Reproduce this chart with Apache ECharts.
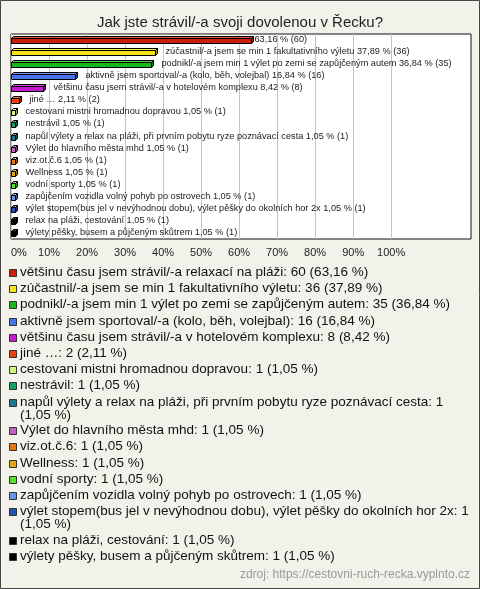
<!DOCTYPE html>
<html><head><meta charset="utf-8">
<script src="https://cdn.jsdelivr.net/npm/echarts@6/dist/echarts.min.js"></script>
<style>html,body{margin:0;padding:0;background:#f3f2ea}#c{width:480px;height:589px}</style>
</head><body><div id="c"></div>
<script>
const titleText = "Jak jste strávil/-a svoji dovolenou v Řecku?";
const sourceText = "zdroj: https://cestovni-ruch-recka.vyplnto.cz";
const categories = [
  "většinu času jsem strávil/-a relaxací na pláži",
  "zúčastnil/-a jsem se min 1 fakultativního výletu",
  "podnikl/-a jsem min 1 výlet po zemi se zapůjčeným autem",
  "aktivně jsem sportoval/-a (kolo, běh, volejbal)",
  "většinu času jsem strávil/-a v hotelovém komplexu",
  "jiné …",
  "cestovani mistni hromadnou dopravou",
  "nestrávil",
  "napůl výlety a relax na pláži, při prvním pobytu ryze poznávací cesta",
  "Výlet do hlavního města mhd",
  "viz.ot.č.6",
  "Wellness",
  "vodní sporty",
  "zapůjčením vozidla volný pohyb po ostrovech",
  "výlet stopem(bus jel v nevýhodnou dobu), výlet pěšky do okolních hor 2x",
  "relax na pláži, cestování",
  "výlety pěšky, busem a půjčeným skůtrem"
];
const counts = [60, 36, 35, 16, 8, 2, 1, 1, 1, 1, 1, 1, 1, 1, 1, 1, 1];
const percents = [63.16, 37.89, 36.84, 16.84, 8.42, 2.11, 1.05, 1.05, 1.05, 1.05, 1.05, 1.05, 1.05, 1.05, 1.05, 1.05, 1.05];
const barLabelShowsName = [false, true, true, true, true, true, true, true, true, true, true, true, true, true, true, true, true];
const legendWraps = [false, false, false, false, false, false, false, false, true, false, false, false, false, false, true, false, false];
const colors = ["#c81e0a", "#f6e41c", "#18b818", "#4a72ec", "#c41ccc", "#e6420e", "#d0f47e", "#14a062", "#1c7890",
  "#c062c0", "#e07a10", "#e0a812", "#52e032", "#6a92e2", "#2a52b6", "#000000", "#000000"];
const xTicks = [0, 10, 20, 30, 40, 50, 60, 70, 80, 90, 100];

const fmtPct = p => p.toFixed(2).replace('.', ',');
const FONT = "'Liberation Sans', Arial, sans-serif";

function shade(hex, f) {
  const n = parseInt(hex.slice(1), 16);
  let r = (n >> 16) & 255, g = (n >> 8) & 255, b = n & 255;
  if (f > 0) { r += (255 - r) * f; g += (255 - g) * f; b += (255 - b) * f; }
  else { r *= 1 + f; g *= 1 + f; b *= 1 + f; }
  return 'rgb(' + [r, g, b].map(v => Math.round(v)).join(',') + ')';
}

const series = categories.map((name, i) => ({
  type: 'custom',
  name: name,
  color: colors[i],
  itemStyle: { color: colors[i] },
  data: [[percents[i], i]],
  encode: { x: 0, y: 1 },
  renderItem: function (params, api) {
    const end = api.coord([api.value(0), api.value(1)]);
    const start = api.coord([0, api.value(1)]);
    const x0 = Math.round(start[0]) + 0.5, x1 = Math.round(end[0]) + 0.5, yc = Math.round(end[1]) + 0.5;
    const d = 2, top = yc - 2, bot = yc + 3;
    const c = colors[i];
    const stroke = { stroke: '#000', lineWidth: 1 };
    const lbl = (barLabelShowsName[i] ? categories[i] + ' ' : '') + fmtPct(percents[i]) + ' % (' + counts[i] + ')';
    const off = barLabelShowsName[i] ? 10 : 3;
    return {
      type: 'group',
      children: [
        { type: 'polygon', shape: { points: [[x0, top], [x0 + d, top - d], [x1 + d, top - d], [x1, top]] }, style: Object.assign({ fill: shade(c, 0.25) }, stroke) },
        { type: 'polygon', shape: { points: [[x1, top], [x1 + d, top - d], [x1 + d, bot - d], [x1, bot]] }, style: Object.assign({ fill: shade(c, -0.35) }, stroke) },
        { type: 'rect', shape: { x: x0, y: top, width: x1 - x0, height: bot - top }, style: Object.assign({ fill: c }, stroke) },
        { type: 'text', x: x1 + off, y: yc - 1, style: { text: lbl, fill: '#222', fontSize: 9.2, fontFamily: FONT, verticalAlign: 'middle', align: 'left' } }
      ]
    };
  }
}));

// legend drawn as graphic (icon aligned with first text line)
const legendGraphics = [];
let ly = 273;
categories.forEach((name, i) => {
  const base = name + ': ' + counts[i];
  const pct = '(' + fmtPct(percents[i]) + ' %)';
  const txt = legendWraps[i] ? base + '\n' + pct : base + ' ' + pct;
  legendGraphics.push({ type: 'rect', shape: { x: 9.5, y: Math.round(ly) - 3.5, width: 7, height: 7 }, style: { fill: colors[i], stroke: '#333', lineWidth: 1 } });
  legendGraphics.push({ type: 'text', x: 20, y: Math.round(ly) - 7, style: { text: txt, fill: '#111', fontSize: 13.5, fontFamily: FONT, lineHeight: 13, verticalAlign: 'top', align: 'left' } });
  ly += legendWraps[i] ? 28.7 : 16.2;
});

const chart = echarts.init(document.getElementById('c'), null, { renderer: 'canvas' });
chart.setOption({
  backgroundColor: '#f3f2ea',
  animation: false,
  textStyle: { fontFamily: FONT },
  title: [
    { text: titleText, left: 'center', top: 10, textStyle: { fontSize: 15, fontWeight: 'normal', color: '#222', fontFamily: FONT } },
    { text: sourceText, right: 5, bottom: 3, textStyle: { fontSize: 12, fontWeight: 'normal', color: '#999', fontFamily: FONT } }
  ],
  graphic: [{ type: 'rect', shape: { x: 0.5, y: 0.5, width: 479, height: 588 }, style: { fill: 'none', stroke: '#444', lineWidth: 1 }, z: 100 }].concat(legendGraphics),
  grid: { left: 11, top: 34, width: 460, height: 205, show: true, backgroundColor: '#fff', borderColor: '#111', borderWidth: 1 },
  xAxis: {
    type: 'value', min: 0, max: 121, interval: 10,
    axisLine: { show: false }, axisTick: { show: false },
    axisLabel: { margin: 8, fontSize: 11, color: '#222', fontFamily: FONT, alignMinLabel: 'left',
      formatter: v => xTicks.indexOf(v) >= 0 ? v + '%' : '' },
    splitLine: { show: true, lineStyle: { width: 1, color: xTicks.map(() => '#c4c4c4').concat(['rgba(0,0,0,0)', 'rgba(0,0,0,0)', 'rgba(0,0,0,0)']) } }
  },
  yAxis: { type: 'category', data: categories, inverse: true, axisLine: { show: false }, axisTick: { show: false }, axisLabel: { show: false }, splitLine: { show: false } },
  series: series
});
</script></body></html>
